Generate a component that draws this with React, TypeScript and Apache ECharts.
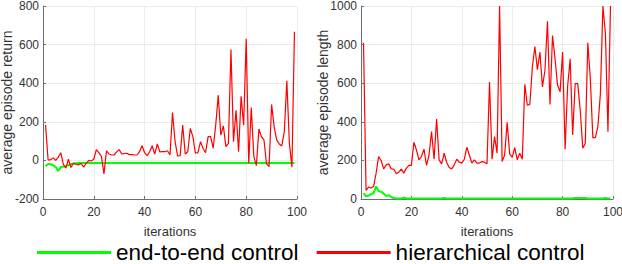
import React, { useEffect, useRef } from "react";
import * as echarts from "echarts";

const SERIES_E2E = "end-to-end control";
const SERIES_HIER = "hierarchical control";

// iterations 1..99
const returnHier = [
  183, 3, 3, 13, 0, 16, 40, -21, -40, 6,
  -37, -15, -20, -23, -16, -35, -15, 0, -3, 6,
  56, 40, 20, -70, 50, 33, 28, 28, 44, 56,
  33, 35, 37, 30, 30, 28, 28, 45, 76, 40,
  25, 45, 76, 32, 85, 44, 45, 45, 50, 28,
  248, 97, 23, 25, 183, 33, 45, 166, 123, 37,
  40, 97, 63, 40, 123, 123, 63, 183, 338, 131,
  179, 71, 88, 575, 97, 260, 45, 332, 183, 630,
  -15, 274, 20, -27, 163, 123, 106, -18, -32, 290,
  175, 106, 85, 75, 149, 412, 88, -35, 667,
];

const returnE2E = [
  -30, -18, -20, -25, -35, -55, -35, -32, -30, -25,
  -20, -16, -15, -14, -13, -13, -13, -13, -13, -13,
  -13, -13, -13, -13, -13, -13, -13, -13, -13, -13,
  -13, -13, -13, -13, -13, -13, -13, -13, -13, -13,
  -13, -13, -13, -13, -13, -13, -13, -13, -13, -13,
  -13, -13, -13, -13, -13, -13, -13, -13, -13, -13,
  -13, -13, -13, -13, -13, -13, -13, -13, -13, -13,
  -13, -13, -13, -13, -13, -13, -13, -13, -13, -13,
  -13, -13, -13, -13, -13, -13, -13, -13, -13, -13,
  -13, -13, -13, -13, -13, -13, -13, -13, -13,
];

const lengthHier = [
  809, 45, 62, 57, 65, 134, 220, 198, 156, 177,
  182, 156, 155, 131, 139, 155, 134, 160, 174, 174,
  294, 254, 203, 220, 258, 174, 228, 349, 206, 414,
  203, 182, 237, 189, 163, 156, 177, 206, 191, 186,
  206, 268, 228, 186, 203, 186, 186, 194, 191, 182,
  606, 206, 323, 237, 1000, 194, 228, 397, 234, 216,
  266, 203, 237, 206, 594, 486, 490, 684, 790, 670,
  761, 581, 667, 921, 490, 847, 727, 589, 555, 761,
  258, 584, 727, 332, 598, 598, 460, 263, 289, 809,
  624, 318, 318, 375, 546, 1000, 856, 349, 1000,
];

const lengthE2E = [
  30, 14, 18, 25, 30, 65, 40, 38, 28, 15,
  20, 10, 5, 3, 3, 3, 8, 3, 3, 3,
  3, 3, 3, 3, 3, 3, 3, 3, 3, 3,
  3, 3, 5, 3, 3, 3, 3, 3, 3, 3,
  3, 3, 3, 3, 3, 3, 3, 3, 3, 3,
  3, 3, 3, 3, 3, 3, 3, 3, 3, 3,
  3, 3, 3, 3, 3, 3, 3, 3, 3, 3,
  3, 3, 3, 3, 3, 3, 3, 3, 3, 3,
  3, 3, 3, 3, 5, 5, 5, 5, 5, 3,
  3, 3, 3, 3, 3, 3, 5, 3, 3,
];

const X_MIN = 0;
const X_MAX = 100;
const X_STEP = 20;
const RET_MIN = -200;
const RET_MAX = 800;
const LEN_MIN = 0;
const LEN_MAX = 1000;
const Y_STEP = 200;

const FONT = "'Liberation Sans', Arial, Helvetica, sans-serif";
const GREEN = "#00ff00";
const RED = "#ff0000";

const toPairs = (vals: number[]) => vals.map((v, i) => [i + 1, v]);

export default function App() {
  const ref = useRef<HTMLDivElement>(null);

  useEffect(() => {
    if (!ref.current) return;
    const chart = echarts.init(ref.current, undefined, { renderer: "svg" });

    const axisCommon = {
      axisLine: { show: true, onZero: false, lineStyle: { color: "#6e6e6e", width: 1 } },
      axisTick: { show: true, inside: true, length: 3, lineStyle: { color: "#6e6e6e" } },
      axisLabel: {
        color: "#333",
        fontSize: 12,
        fontFamily: FONT,
        formatter: (v: number) => String(v),
      },
      splitLine: { show: true, lineStyle: { color: "#ebebeb", width: 1 } },
      nameMoveOverlap: false,
    };

    const xAxis = (gridIndex: number) => ({
      ...axisCommon,
      type: "value",
      gridIndex,
      min: X_MIN,
      max: X_MAX,
      interval: X_STEP,
      name: "iterations",
      nameLocation: "middle",
      nameGap: 26,
      nameTextStyle: { color: "#333", fontSize: 13, fontFamily: FONT },
      axisLabel: { ...axisCommon.axisLabel, margin: 7 },
    });

    const yAxis = (gridIndex: number, min: number, max: number, name: string, gap: number) => ({
      ...axisCommon,
      type: "value",
      gridIndex,
      min,
      max,
      interval: Y_STEP,
      name,
      nameLocation: "middle",
      nameGap: gap,
      nameTextStyle: { color: "#333", fontSize: 14, fontFamily: FONT },
      axisLabel: { ...axisCommon.axisLabel, margin: 4 },
    });

    const line = (name: string, color: string, width: number, idx: number, vals: number[]) => ({
      name,
      type: "line",
      xAxisIndex: idx,
      yAxisIndex: idx,
      data: toPairs(vals),
      showSymbol: false,
      symbol: "none",
      clip: true,
      lineStyle: { color, width },
      itemStyle: { color },
    });

    chart.setOption({
      animation: false,
      backgroundColor: "#ffffff",
      grid: [
        { left: 43, top: 6, width: 254, height: 193, outerBoundsMode: "none", containLabel: false },
        { left: 361, top: 6, width: 252, height: 193, outerBoundsMode: "none", containLabel: false },
      ],
      xAxis: [xAxis(0), xAxis(1)],
      yAxis: [
        yAxis(0, RET_MIN, RET_MAX, "average episode return", 29),
        yAxis(1, LEN_MIN, LEN_MAX, "average episode length", 31),
      ],
      legend: {
        data: [SERIES_E2E, SERIES_HIER],
        left: 37,
        top: 241,
        padding: 0,
        icon: "rect",
        itemWidth: 74,
        itemHeight: 3,
        itemGap: 18,
        textStyle: { color: "#000", fontSize: 22.5, fontFamily: FONT, lineHeight: 20 },
      },
      series: [
        line(SERIES_E2E, GREEN, 2, 0, returnE2E),
        line(SERIES_HIER, RED, 1.2, 0, returnHier),
        line(SERIES_E2E, GREEN, 2, 1, lengthE2E),
        line(SERIES_HIER, RED, 1.2, 1, lengthHier),
      ],
    });

    return () => chart.dispose();
  }, []);

  return (
    <div
      ref={ref}
      style={{ position: "fixed", left: 0, top: 0, width: 622, height: 264, background: "#fff" }}
    />
  );
}
